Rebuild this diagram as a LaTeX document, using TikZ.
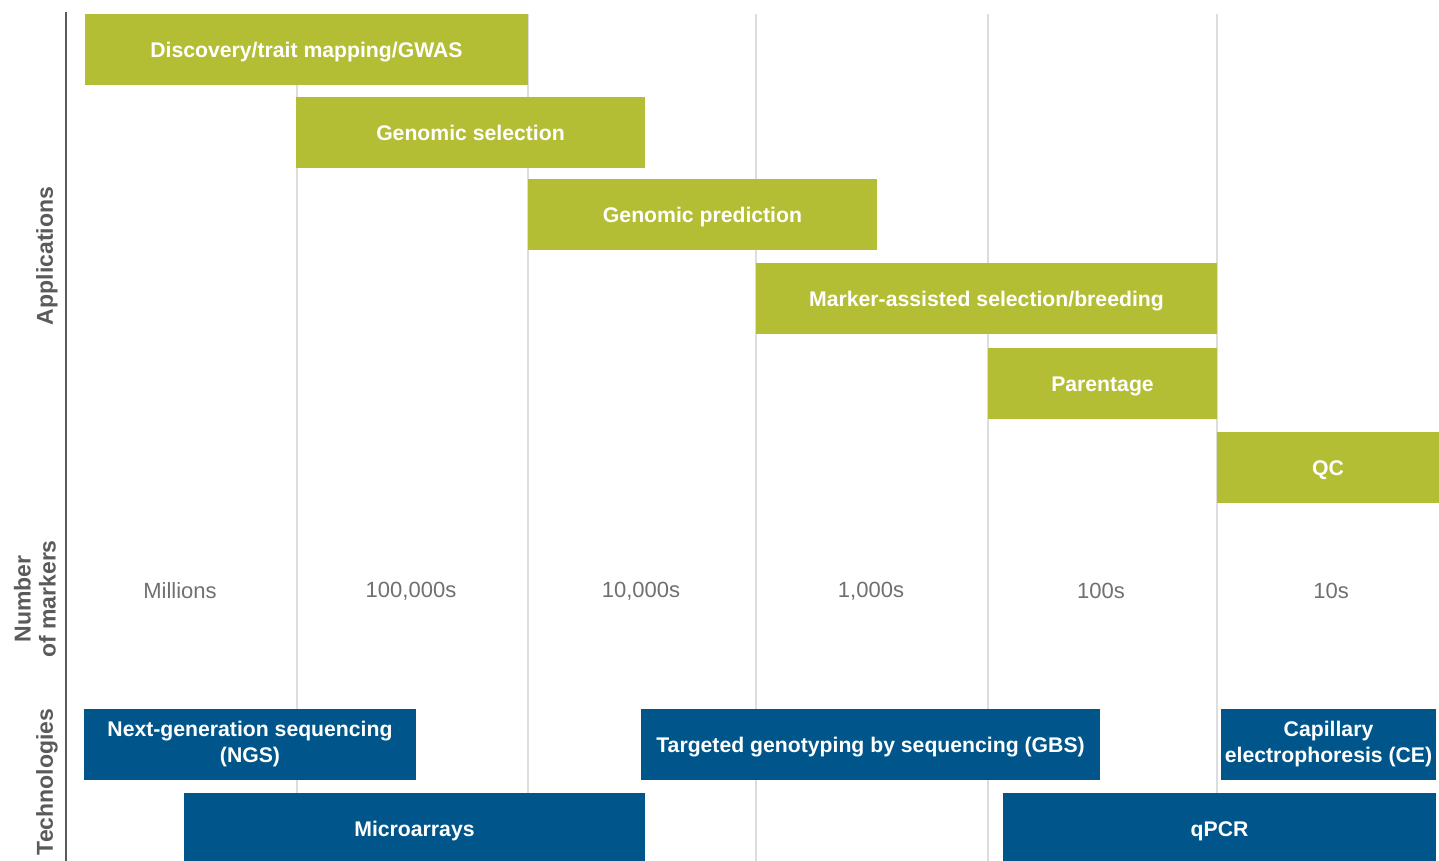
\documentclass[tikz,border=0pt]{standalone}
\usepackage{fontspec}
\setmainfont{Liberation Sans}
\begin{document}
\definecolor{appgreen}{HTML}{B4BE35}
\definecolor{techblue}{HTML}{00568A}
\definecolor{gridgray}{HTML}{DDDDDD}
\definecolor{axisgray}{HTML}{5A5A5A}
\definecolor{numgray}{HTML}{707070}
\begin{tikzpicture}[x=0.5pt,y=-0.5pt,
  bar/.style={anchor=north west,inner sep=0pt,outer sep=0pt,text=white,
    align=center,font=\fontsize{10.6}{13}\selectfont\bfseries,
    minimum height=35.5pt},
  one line/.style={text height=7.6pt,text depth=0pt},
  appbar/.style={bar,one line,fill=appgreen},
  techbar/.style={bar,fill=techblue},
  count/.style={text=numgray,font=\fontsize{11}{13}\selectfont},
  axislabel/.style={rotate=90,text=axisgray,align=center,
    font=\fontsize{11.5}{12.5}\selectfont\bfseries},
  grid line/.style={gridgray,line width=1pt}]
\useasboundingbox (0,0) rectangle (1439,861);
\fill[white] (0,0) rectangle (1439,861);

% column separators and axis
\foreach \gx/\gn in {297/g1,528/g2,756/g3,988/g4,1217/g5}{
  \coordinate (\gn t) at (\gx,14);
  \coordinate (\gn b) at (\gx,861);
  \draw[grid line] (\gn t) -- (\gn b);
}
\coordinate (axt) at (66,12);
\coordinate (axb) at (66,861);
\draw[axisgray,line width=0.8pt] (axt) -- (axb);

% applications
\node[appbar,minimum width=221.5pt] (disc) at (85,14) {Discovery/trait mapping/GWAS};
\node[appbar,minimum width=174.5pt] (gsel) at (296,97) {Genomic selection};
\node[appbar,minimum width=174.5pt] (gpred) at (528,179) {Genomic prediction};
\node[appbar,minimum width=230.5pt] (mas) at (756,263) {Marker-assisted selection/breeding};
\node[appbar,minimum width=114.5pt] (par) at (988,348) {Parentage};
\node[appbar,minimum width=111pt] (qc) at (1217,432) {QC};

% number of markers
\node[count] (n1) at (180,591) {Millions};
\node[count] (n2) at (411,591) {100,000s};
\node[count] (n3) at (641,591) {10,000s};
\node[count] (n4) at (871,591) {1,000s};
\node[count] (n5) at (1101,591) {100s};
\node[count] (n6) at (1331,591) {10s};

% technologies
\node[techbar,minimum width=166pt] (ngs) at (84,709) {Next-generation sequencing\\(NGS)};
\node[techbar,one line,minimum width=229.5pt] (gbs) at (641,709) {Targeted genotyping by sequencing (GBS)};
\node[techbar,minimum width=107.5pt] (ce) at (1221,709) {Capillary\\electrophoresis (CE)};
\node[techbar,one line,minimum width=230.5pt] (micro) at (184,793) {Microarrays};
\node[techbar,one line,minimum width=216.5pt] (qpcr) at (1003,793) {qPCR};

% row titles
\node[axislabel] (lapp) at (47,256) {Applications};
\node[axislabel] (lnum) at (35,599) {Number\\of markers};
\node[axislabel] (ltech) at (47,782) {Technologies};
\end{tikzpicture}
\end{document}
